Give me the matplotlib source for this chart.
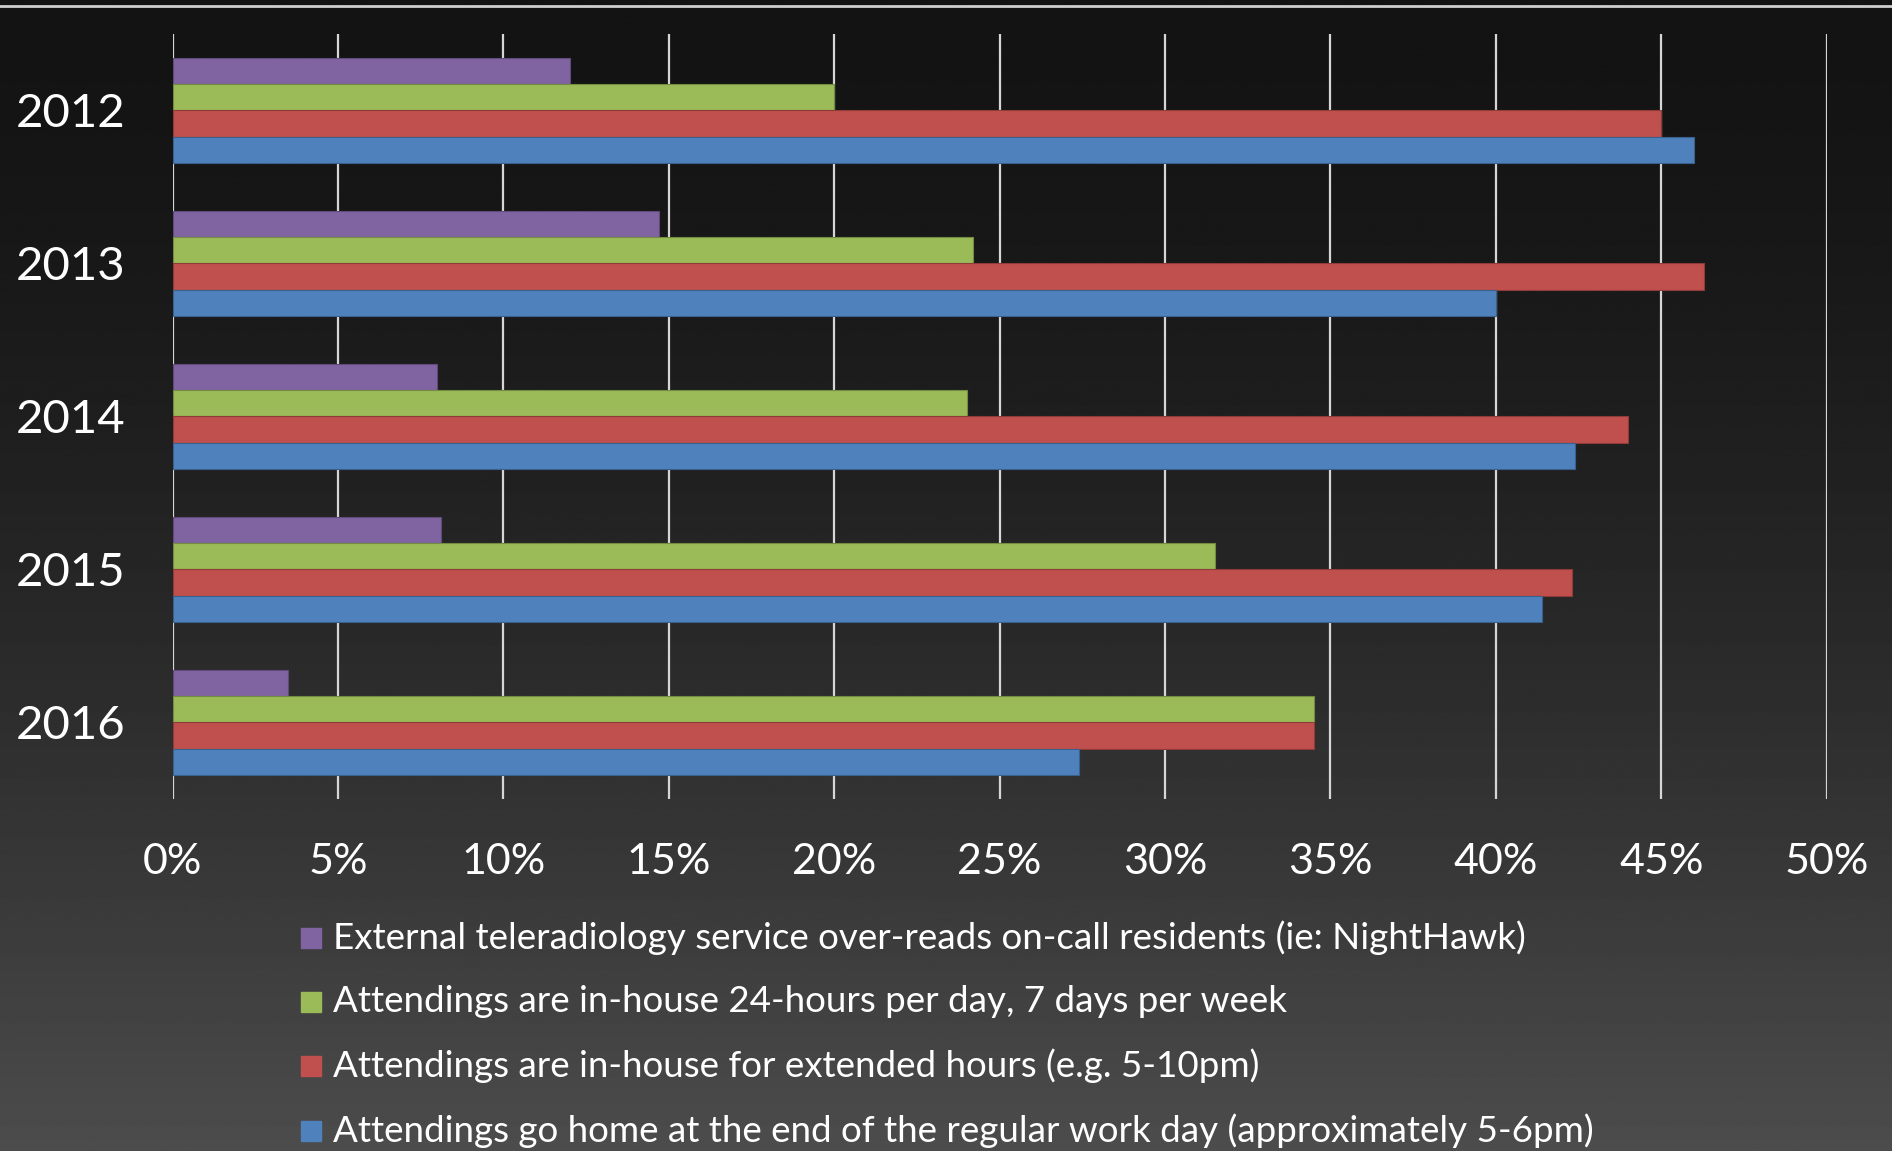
"""Horizontal grouped bars: after-hours attending coverage by year, 2012-2016."""

import matplotlib
matplotlib.use("Agg")
import matplotlib.pyplot as plt
import numpy as np
from matplotlib.lines import Line2D
from matplotlib.patches import Rectangle

years = ["2012", "2013", "2014", "2015", "2016"]

series_labels = [
    "External teleradiology service over-reads on-call residents (ie: NightHawk)",
    "Attendings are in-house 24-hours per day, 7 days per week",
    "Attendings are in-house for extended hours (e.g. 5-10pm)",
    "Attendings go home at the end of the regular work day (approximately 5-6pm)",
]

# percent of programs, per year
teleradiology = [12.0, 14.7, 8.0, 8.1, 3.5]
inhouse_24_7 = [20.0, 24.2, 24.0, 31.5, 34.5]
extended_hours = [45.0, 46.3, 44.0, 42.3, 34.5]
go_home = [46.0, 40.0, 42.4, 41.4, 27.4]

colors = ["#8064A2", "#9BBB59", "#C0504D", "#4F81BD"]
edges = ["#5f4a7a", "#748c42", "#8f3b39", "#3a618e"]

plt.rcParams["font.family"] = ["Lato", "DejaVu Sans"]

fig = plt.figure(figsize=(18.92, 11.51), dpi=100)

# background: dark vertical gradient, lighter toward the bottom
bg = fig.add_axes([0, 0, 1, 1], zorder=-10)
t = np.linspace(0, 1, 512)[:, None]
shade = 0.075 + 0.225 * t ** 1.6
bg.imshow(np.repeat(shade, 2, axis=1), cmap="gray", vmin=0, vmax=1,
          aspect="auto", extent=[0, 1, 0, 1], origin="upper")
bg.set_axis_off()

# thin rule along the very top
fig.add_artist(Line2D([0, 1], [1 - 6 / 1151] * 2, color="#cfcfcf", lw=2,
                      transform=fig.transFigure))

ax = fig.add_axes([0.0912, 0.306, 0.9655 - 0.0912, 0.9706 - 0.306])
ax.set_facecolor("none")

y = np.arange(len(years))
h = 0.1716
values = [teleradiology, inhouse_24_7, extended_hours, go_home]
for k, (vals, c, ec) in enumerate(zip(values, colors, edges)):
    ax.barh(y + (k - 1.5) * h, vals, height=h, color=c, edgecolor=ec,
            linewidth=0.8, zorder=3)

ax.set_xlim(0, 50)
ax.set_ylim(len(years) - 0.5, -0.5)
ax.set_xticks(np.arange(0, 51, 5))
ax.set_xticklabels([f"{v}%" for v in range(0, 51, 5)])
ax.set_yticks(y)
ax.set_yticklabels(years)
ax.tick_params(length=0, colors="white", labelsize=31)
ax.tick_params(axis="x", pad=32)
ax.tick_params(axis="y", pad=34)
ax.xaxis.grid(True, color="#d6d6d6", lw=1.6, zorder=0)
ax.set_axisbelow(True)
for s in ax.spines.values():
    s.set_visible(False)
for lab in ax.get_yticklabels():
    lab.set_fontsize(34)

# legend rows, manually placed under the axis
row_y = [937.5, 1001.5, 1065.5, 1130.5]
for lab, c, yy in zip(series_labels, colors, row_y):
    yf = 1 - yy / 1151
    fig.add_artist(Rectangle((301 / 1892, yf - 10 / 1151), 20 / 1892, 20 / 1151,
                             transform=fig.transFigure, color=c))
    fig.text(333 / 1892, yf, lab, color="white", fontsize=26.5, va="center")

fig.savefig("out.png", dpi=100)
